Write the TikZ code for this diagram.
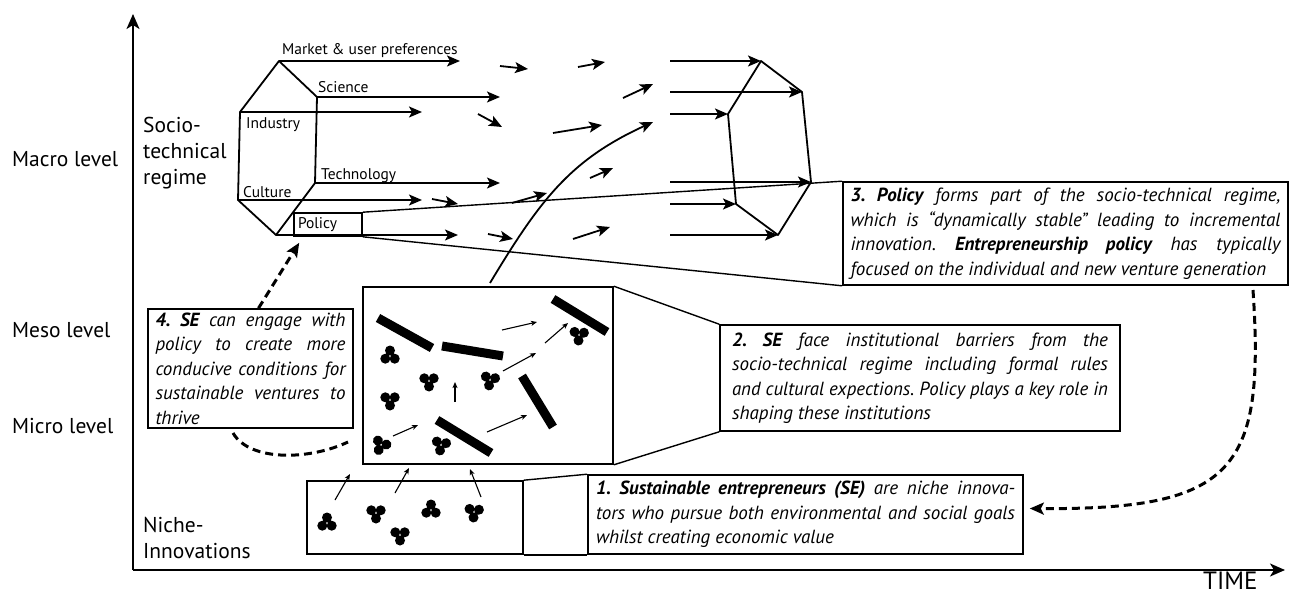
\documentclass[tikz,border=0pt]{standalone}
\usepackage{fontspec}
\setmainfont{PT Sans}
\usepackage{graphicx}
\usetikzlibrary{arrows.meta}
\frenchspacing
\newlength\jlw
\newcommand\jline[2]{\settowidth\jlw{#2}\ifdim\jlw>#1\relax\resizebox{#1}{\height}{#2}\else\makebox[#1][s]{#2}\fi}
\newcommand\lline[2]{\settowidth\jlw{#2}\ifdim\jlw>#1\relax\resizebox{#1}{\height}{#2}\else\makebox[#1][l]{#2}\fi}
\begin{document}
\begin{tikzpicture}[x=1pt,y=-1pt,
  lab/.style={inner sep=0pt, align=left, font=\fontsize{21.5}{26}\selectfont},
  rlab/.style={inner sep=0pt, anchor=base west, font=\fontsize{15.5}{19}\selectfont},
  tbox/.style={draw, line width=1.6pt, inner sep=0pt, align=left, font=\fontsize{19}{24.5}\selectfont\itshape},
  pbox/.style={draw, line width=1.6pt, inner sep=0pt},
  axis/.style={line width=1.8pt, -{Stealth[length=15pt,width=13pt,inset=4pt]}},
  hexline/.style={line width=1.8pt, line join=round},
  bigarrow/.style={line width=1.8pt, -{Stealth[length=13pt,width=11pt,inset=3pt]}},
  thinarrow/.style={line width=1.1pt, -{Stealth[length=6pt,width=5pt,inset=1.5pt]}},
  zline/.style={line width=1.4pt},
  bar/.style={line width=9pt},
  dashline/.style={line width=3pt, dash pattern=on 8pt off 5pt},
  dasharrow/.style={dashline, -{Stealth[length=14pt,width=12pt,inset=3pt]}},
  clusterA/.pic={\fill (-4.7,-2.7) circle[radius=5pt] (4.7,-2.7) circle[radius=5pt] (0,5.5) circle[radius=5pt];},
  clusterB/.pic={\fill (0,-5.5) circle[radius=5pt] (-4.7,2.7) circle[radius=5pt] (4.7,2.7) circle[radius=5pt];}
]
\fill[white] (0,0) rectangle (1290,596);
\path[use as bounding box] (0,0) rectangle (1290,596);

% axes
\coordinate (O) at (133,570);
\coordinate (ytop) at (133,14);
\coordinate (xend) at (1285,570);
\draw[axis] (O) -- (ytop);
\draw[axis] (O) -- (xend);
\node[inner sep=0pt, anchor=base west, font=\fontsize{25}{30}\selectfont] (time) at (1203,589) {TIME};

% level labels
\node[lab, anchor=west] (macro) at (12,159) {Macro level};
\node[lab, anchor=west] (meso-l) at (12,330) {Meso level};
\node[lab, anchor=west] (micro) at (12,426) {Micro level};
\node[lab, anchor=west] (regime) at (143,153) {Socio-\\technical\\regime};
\node[lab, anchor=west] (nichelab) at (143,538) {Niche-\\Innovations};

% left hexagon
\coordinate (LT) at (279,61);
\coordinate (LUR) at (317,97);
\coordinate (LR) at (315,183);
\coordinate (LB) at (276,235);
\coordinate (LLL) at (238,200);
\coordinate (LUL) at (240,112);
\draw[hexline] (LT)--(LUR)--(LR)--(LB)--(LLL)--(LUL)--cycle;

% right hexagon
\coordinate (RT) at (761,61);
\coordinate (RUR) at (802,92);
\coordinate (RR) at (811,182);
\coordinate (RB) at (778,235);
\coordinate (RLL) at (736,204);
\coordinate (RUL) at (728,114);
\draw[hexline] (RT)--(RUR)--(RR)--(RB)--(RLL)--(RUL)--cycle;

% regime labels
\node[rlab] (market) at (282,55) {Market \& user preferences};
\node[rlab] (science) at (318,93) {Science};
\node[rlab] (industry) at (246,129) {Industry};
\node[rlab] (technology) at (321,180) {Technology};
\node[rlab] (culture) at (243,197) {Culture};
\node[pbox, minimum width=68pt, minimum height=23pt, font=\fontsize{15.5}{19}\selectfont] (policy) at (328,224.5) {\makebox[60pt][l]{Policy}};

% arrows leaving left hexagon
\coordinate (a1) at (460,61);
\coordinate (a2) at (500,97);
\coordinate (a3) at (422,112);
\coordinate (a4) at (500,183);
\coordinate (a5) at (422,200);
\coordinate (a6) at (458,235);
\draw[bigarrow] (LT) -- (a1);
\draw[bigarrow] (LUR) -- (a2);
\draw[bigarrow] (LUL) -- (a3);
\draw[bigarrow] (LR) -- (a4);
\draw[bigarrow] (LLL) -- (a5);
\draw[bigarrow] (LB) -- (a6);

% short free arrows
\foreach \xa/\ya/\xb/\yb in {500/66/528/69, 578/67/605/62, 478/114/502/127, 623/98/653/84,
  553/133/602/125, 432/199/458/204, 512/203/547/193, 590/178/613/168, 488/234/513/239, 573/239/610/227}
  \draw[bigarrow] (\xa,\ya) -- (\xb,\yb);

% arrows entering right hexagon
\coordinate (r1) at (670,61);
\coordinate (r2) at (670,92);
\coordinate (r3) at (670,114);
\coordinate (r4) at (670,182);
\coordinate (r5) at (670,204);
\coordinate (r6) at (670,235);
\draw[bigarrow] (r1) -- (RT);
\draw[bigarrow] (r2) -- (RUR);
\draw[bigarrow] (r3) -- (RUL);
\draw[bigarrow] (r4) -- (RR);
\draw[bigarrow] (r5) -- (RLL);
\draw[bigarrow] (r6) -- (RB);

% boxes
\node[pbox, minimum width=250pt, minimum height=177pt] (meso) at (488,375.5) {};
\node[pbox, minimum width=216pt, minimum height=73pt] (niche) at (415,517.5) {};

\node[tbox, minimum width=445pt, minimum height=103pt] (box3) at (1065.5,233.5) {%
\jline{430pt}{\textbf{3. Policy} forms part of the socio-technical regime,}\\
\jline{430pt}{which is “dynamically stable” leading to incremental}\\
\jline{430pt}{innovation. \textbf{Entrepreneurship policy} has typically}\\
\lline{430pt}{focused on the individual and new venture generation}};

\node[tbox, minimum width=400pt, minimum height=106pt] (box2) at (920,378) {%
\jline{376pt}{\textbf{2. SE} face institutional barriers from the}\\
\jline{376pt}{socio-technical regime including formal rules}\\
\jline{376pt}{and cultural expections. Policy plays a key role in}\\
\lline{376pt}{shaping these institutions}};

\node[tbox, minimum width=205pt, minimum height=119pt] (box4) at (250.5,368.5) {%
\jline{190pt}{\textbf{4. SE} can engage with}\\
\jline{190pt}{policy to create more}\\
\jline{190pt}{conducive conditions for}\\
\jline{190pt}{sustainable ventures to}\\
\lline{190pt}{thrive}};

\node[tbox, minimum width=435pt, minimum height=79pt] (box1) at (805.5,514.5) {%
\jline{419pt}{\textbf{1. Sustainable entrepreneurs (SE)} are niche innova-}\\
\jline{419pt}{tors who pursue both environmental and social goals}\\
\lline{419pt}{whilst creating economic value}};

% zoom lines
\draw[zline] (policy.north east) -- (box3.north west);
\draw[zline] (policy.south east) -- (box3.south west);
\draw[zline] (meso.north east) -- (box2.north west);
\draw[zline] (meso.south east) -- (box2.south west);
\draw[zline] (niche.north east) -- (box1.north west);
\draw[zline] (niche.south east) -- (box1.south west);

% curve from meso level up into the regime
\coordinate (cstart) at (490,283);
\coordinate (cend) at (653,122);
\draw[bigarrow] (cstart) .. controls (540,200) and (570,160) .. (cend);

% meso content: bars
\draw[bar] (378,318) -- (432,348);
\draw[bar] (442,346) -- (503,356);
\draw[bar] (553,299) -- (607,332);
\draw[bar] (522,376) -- (553,427);
\draw[bar] (437,420) -- (491,453);
% meso clusters
\pic at (390,356) {clusterB};
\pic at (390,400) {clusterA};
\pic at (429,381) {clusterA};
\pic[rotate=-10] at (490,380) {clusterA};
\pic[rotate=-25] at (381,445) {clusterA};
\pic[rotate=-10] at (441,445) {clusterA};
\pic[rotate=-5] at (579,335) {clusterA};
% meso thin arrows
\foreach \xa/\ya/\xb/\yb in {502/330/537/322, 545/343/568/323, 503/371/536/353, 455/402/455/382,
  393/436/418/425, 487/432/527/415}
  \draw[thinarrow] (\xa,\ya) -- (\xb,\yb);

% niche content
\pic at (327,523) {clusterB};
\pic at (376,513) {clusterA};
\pic at (400,535) {clusterA};
\pic at (431,510) {clusterB};
\pic[rotate=-5] at (474,512) {clusterA};
\foreach \xa/\ya/\xb/\yb in {335/500/350/474, 395/493/409/468, 481/497/470/469}
  \draw[thinarrow] (\xa,\ya) -- (\xb,\yb);

% dashed connectors
\coordinate (d1s) at ([xshift=8pt]box4.north);
\coordinate (d1e) at ([xshift=6pt,yshift=-6pt]policy.south west);
\draw[dasharrow] (d1s) -- (d1e);
\coordinate (d2s) at (233,433);
\coordinate (d2e) at (348,442);
\draw[dashline] (d2s) .. controls (250,462) and (310,460) .. (d2e);
\coordinate (d3s) at (1253,290);
\coordinate (d3e) at ([xshift=6pt,yshift=6pt]box1.east);
\draw[dasharrow] (d3s) .. controls (1265,470) and (1235,510) .. (d3e);
\end{tikzpicture}
\end{document}
